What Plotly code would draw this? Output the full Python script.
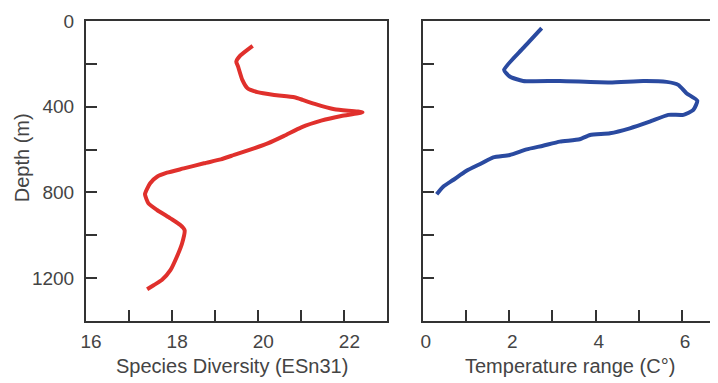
import plotly.graph_objects as go

# Left panel: species diversity vs depth
diversity = [19.87, 19.58, 19.49, 19.53, 19.63, 19.75, 19.98, 20.37, 20.84, 21.03, 21.31, 21.77, 22.42,
             21.93, 21.46, 21.0, 20.6, 20.22, 19.83, 19.44, 19.13, 18.74, 18.27, 17.88, 17.65, 17.49,
             17.37, 17.45, 17.65, 17.96, 18.19, 18.29, 18.23, 18.11, 17.96, 17.76, 17.57, 17.42]
div_depth = [116, 162, 190, 212, 275, 314, 332, 345, 356, 368, 387, 412, 426,
             443, 465, 496, 536, 571, 599, 625, 646, 664, 688, 708, 727, 757,
             808, 851, 882, 921, 952, 976, 1038, 1100, 1163, 1209, 1233, 1252]

# Right panel: temperature range vs depth
temp_range = [2.75, 2.32, 1.88, 2.01, 2.32, 3.17, 4.33, 5.10, 5.64, 5.91, 6.10, 6.35, 6.26, 6.03,
              5.68, 5.25, 4.79, 4.33, 3.87, 3.63, 3.17, 2.78, 2.40, 2.01, 1.63, 1.36, 1.01, 0.70,
              0.47, 0.32]
temp_depth = [33, 127, 228, 259, 280, 280, 287, 280, 284, 298, 337, 372, 415, 438,
              438, 470, 501, 524, 532, 552, 563, 582, 599, 625, 636, 664, 699, 742,
              773, 808]

x1_ticks = [16, 18, 20, 22]
x2_ticks = [0, 2, 4, 6]
y_ticks = [0, 400, 800, 1200]

FONT = "Liberation Sans, Arial, sans-serif"
TXT = "#444444"
AX = "#333333"

fig = go.Figure()
fig.add_trace(go.Scatter(x=diversity, y=div_depth, mode="lines",
                         line=dict(color="#e0302c", width=4, shape="spline", smoothing=0.5),
                         xaxis="x", yaxis="y", showlegend=False))
fig.add_trace(go.Scatter(x=temp_range, y=temp_depth, mode="lines",
                         line=dict(color="#2a4aa0", width=4, shape="spline", smoothing=0.5),
                         xaxis="x2", yaxis="y2", showlegend=False))

common = dict(showgrid=False, zeroline=False, showline=True, linecolor=AX, linewidth=2,
              ticks="inside", ticklen=11, tickwidth=2, tickcolor=AX,
              tickfont=dict(family=FONT, size=19, color=TXT))

# page body has an 8px default margin, so the figure is 8px smaller and margins compensate
fig.update_layout(
    width=710, height=375,
    margin=dict(l=78, r=0, t=13, b=62),
    paper_bgcolor="white", plot_bgcolor="white",
    font=dict(family=FONT, size=19, color=TXT),
    xaxis=dict(domain=[0, 0.477], range=[16, 23], tickvals=x1_ticks, mirror=True,
               minor=dict(dtick=1, ticks="inside", ticklen=11, tickwidth=2, tickcolor=AX),
               ticklabelstandoff=2, ticklabelshift=5, anchor="y", **common),
    yaxis=dict(domain=[0, 1], range=[1400, 0], tickvals=y_ticks, mirror=True,
               minor=dict(dtick=200, ticks="inside", ticklen=11, tickwidth=2, tickcolor=AX),
               ticklabelstandoff=6, anchor="x", **common),
    xaxis2=dict(domain=[0.533, 1], range=[0, 6.83], tickvals=x2_ticks, mirror=True,
                minor=dict(dtick=1, ticks="inside", ticklen=11, tickwidth=2, tickcolor=AX),
                ticklabelstandoff=2, ticklabelshift=3, anchor="y2", **common),
    yaxis2=dict(domain=[0, 1], range=[1400, 0], tickvals=y_ticks, showticklabels=False,
                mirror=False,
                minor=dict(dtick=200, ticks="inside", ticklen=11, tickwidth=2, tickcolor=AX),
                anchor="x2", **common),
    annotations=[
        dict(text="Depth (m)", xref="paper", yref="paper", x=-0.101, y=0.543,
             textangle=-90, showarrow=False, xanchor="center", yanchor="middle",
             font=dict(family=FONT, size=20, color=TXT)),
        dict(text="Species Diversity (ESn31)", xref="paper", yref="paper", x=0.231, y=-0.15,
             showarrow=False, xanchor="center", yanchor="middle",
             font=dict(family=FONT, size=20, color=TXT)),
        dict(text="Temperature range (C°)", xref="paper", yref="paper", x=0.766, y=-0.15,
             showarrow=False, xanchor="center", yanchor="middle",
             font=dict(family=FONT, size=20, color=TXT)),
    ],
)

fig.write_html("out.html")
